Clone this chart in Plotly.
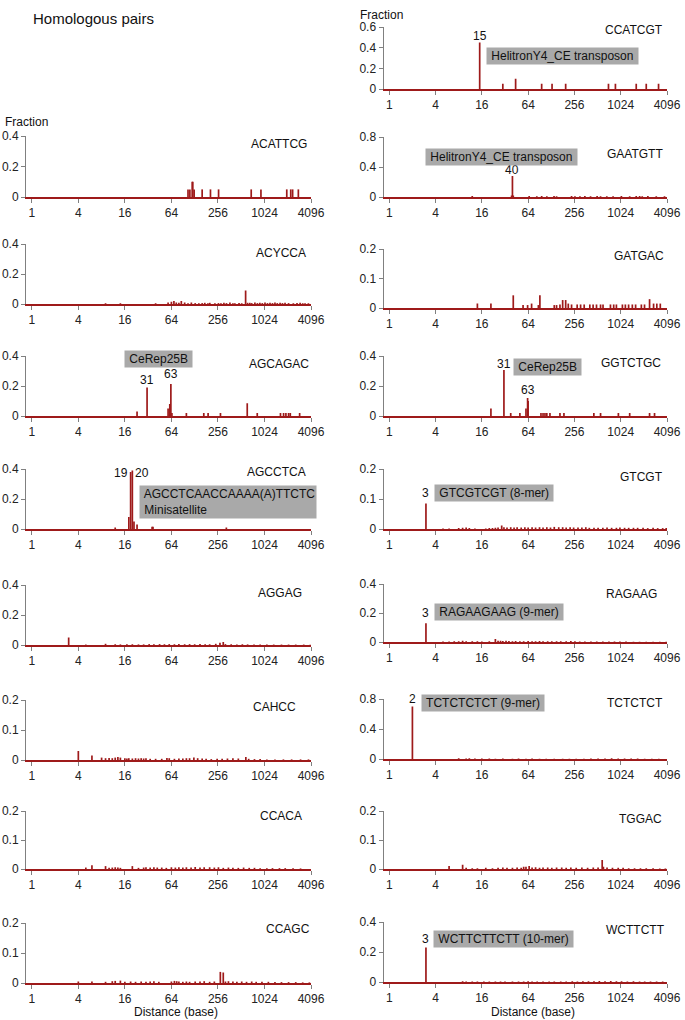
import math
import plotly.graph_objects as go

W, H = 685, 1020
BAR = "#9e1a1a"
AXIS = "#808080"
BOX = "#a9a9a9"
FONT = "Arial, Liberation Sans, sans-serif"

x_ticks = [1, 4, 16, 64, 256, 1024, 4096]
x_tick_text = ["1", "4", "16", "64", "256", "1024", "4096"]

# ---------------- data (distance in bases, fraction) ----------------
acattcg_dist = [105, 111, 119, 121, 126, 160, 205, 261, 690, 922, 1990, 2240, 2370, 2810]
acattcg_frac = [0.05, 0.05, 0.1, 0.1, 0.05, 0.05, 0.05, 0.05, 0.05, 0.05, 0.05, 0.05, 0.05, 0.05]

acycca_dist = [9, 14, 40, 58, 64, 69, 74, 80, 86, 95, 105, 116, 130, 145, 160, 173, 190, 201, 234, 260,
               280, 306, 330, 366, 400, 424, 480, 520, 584, 620, 662, 700, 770, 830, 893, 960, 1040, 1120,
               1207, 1300, 1400, 1500, 1630, 1750, 1890, 2100, 2420, 2700, 2960, 3200, 3430, 3790]
acycca_frac = [0.005, 0.005, 0.005, 0.01, 0.015, 0.02, 0.01, 0.008, 0.02, 0.01, 0.005, 0.01, 0.006, 0.005,
               0.006, 0.008, 0.005, 0.008, 0.005, 0.006, 0.005, 0.008, 0.006, 0.01, 0.005, 0.005, 0.006,
               0.005, 0.09, 0.008, 0.008, 0.006, 0.01, 0.006, 0.008, 0.006, 0.01, 0.006, 0.008, 0.006,
               0.01, 0.006, 0.008, 0.006, 0.008, 0.006, 0.005, 0.006, 0.008, 0.005, 0.005, 0.005]

agcagac_dist = [23, 31, 58, 61, 63, 65, 100, 168, 191, 276, 613, 826, 1650, 1810, 1940, 2100, 2210, 2920]
agcagac_frac = [0.03, 0.19, 0.05, 0.08, 0.213, 0.02, 0.02, 0.02, 0.02, 0.02, 0.085, 0.02, 0.02, 0.02,
                0.02, 0.02, 0.02, 0.02]

agcctca_dist = [12, 18, 19, 20, 21, 23, 36, 37, 329]
agcctca_frac = [0.01, 0.08, 0.38, 0.39, 0.05, 0.03, 0.015, 0.015, 0.01]

aggag_dist = [3, 5, 9, 12, 14, 17, 20, 24, 28, 33, 38, 45, 52, 60, 70, 80, 95, 110, 128, 150, 175, 200,
              240, 272, 300, 320, 380, 450, 530, 620, 750, 900, 1100, 1350, 1700, 2100, 2600, 3300, 4000]
aggag_frac = [0.05, 0.003, 0.008, 0.005, 0.004, 0.005, 0.005, 0.004, 0.004, 0.006, 0.005, 0.006, 0.005,
              0.006, 0.005, 0.006, 0.005, 0.006, 0.005, 0.006, 0.005, 0.005, 0.008, 0.015, 0.02, 0.006,
              0.005, 0.004, 0.005, 0.004, 0.004, 0.003, 0.003, 0.003, 0.003, 0.003, 0.003, 0.003, 0.002]

cahcc_dist = [4, 6, 8, 9, 10, 11, 12, 13, 14, 16, 17, 18, 20, 22, 24, 26, 28, 30, 34, 40, 48, 56, 60, 70,
              80, 90, 100, 110, 125, 140, 160, 180, 210, 250, 290, 340, 400, 470, 588, 640, 760, 900,
              1100, 1400, 1800, 2300, 3000, 3800]
cahcc_frac = [0.03, 0.015, 0.008, 0.006, 0.007, 0.006, 0.008, 0.01, 0.008, 0.006, 0.005, 0.006, 0.005,
              0.006, 0.005, 0.006, 0.005, 0.006, 0.004, 0.004, 0.004, 0.007, 0.006, 0.004, 0.005, 0.005,
              0.006, 0.006, 0.008, 0.006, 0.005, 0.004, 0.003, 0.004, 0.004, 0.005, 0.006, 0.005, 0.01,
              0.004, 0.003, 0.003, 0.002, 0.002, 0.002, 0.002, 0.002, 0.002]

ccaca_dist = [5, 6, 9, 10, 11, 12, 13, 14, 20, 24, 28, 30, 34, 38, 42, 48, 55, 64, 72, 80, 90, 100, 115,
              130, 150, 170, 200, 230, 260, 300, 350, 400, 470, 550, 650, 760, 900, 1100, 1300, 1600,
              1900, 2400, 3000]
ccaca_frac = [0.005, 0.013, 0.01, 0.004, 0.005, 0.006, 0.005, 0.004, 0.01, 0.004, 0.005, 0.006, 0.005,
              0.006, 0.005, 0.005, 0.004, 0.006, 0.005, 0.006, 0.005, 0.006, 0.005, 0.007, 0.005, 0.006,
              0.006, 0.005, 0.006, 0.004, 0.005, 0.004, 0.004, 0.005, 0.004, 0.004, 0.003, 0.003, 0.003,
              0.003, 0.003, 0.003, 0.002]

ccagc_dist = [4, 6, 9, 11, 12, 14, 16, 19, 22, 26, 30, 34, 38, 44, 64, 70, 75, 80, 90, 100, 110, 130,
              150, 170, 200, 230, 275, 300, 320, 350, 400, 450, 520, 600, 700, 800, 950, 1150, 1400,
              1700, 2100, 2600, 3200, 3900]
ccagc_frac = [0.005, 0.005, 0.004, 0.006, 0.007, 0.008, 0.004, 0.005, 0.004, 0.005, 0.004, 0.005, 0.006,
              0.004, 0.005, 0.007, 0.006, 0.005, 0.004, 0.005, 0.004, 0.005, 0.005, 0.006, 0.004, 0.005,
              0.037, 0.035, 0.005, 0.006, 0.005, 0.004, 0.005, 0.004, 0.005, 0.004, 0.004, 0.004, 0.003,
              0.003, 0.003, 0.003, 0.002, 0.002]

ccatcgt_dist = [15, 30, 44, 96, 131, 197, 710, 874, 1630, 2200, 3180]
ccatcgt_frac = [0.45, 0.05, 0.1, 0.05, 0.05, 0.05, 0.05, 0.05, 0.05, 0.05, 0.05]

gaatgtt_dist = [12, 39, 40, 41, 66, 83, 96, 112, 139, 150, 235, 260, 302, 350, 415, 505, 560, 675, 815,
                1045, 1340, 1630, 1805, 1950, 2310, 2970, 3800]
gaatgtt_frac = [0.015, 0.02, 0.28, 0.02, 0.015, 0.01, 0.015, 0.01, 0.015, 0.01, 0.015, 0.01, 0.01, 0.015,
                0.01, 0.015, 0.01, 0.01, 0.01, 0.015, 0.01, 0.015, 0.015, 0.01, 0.015, 0.01, 0.01]

gatgac_dist = [14, 21, 41, 55, 63, 71, 87, 91, 140, 150, 166, 180, 197, 213, 235, 278, 308, 343, 406, 448,
               496, 560, 603, 753, 830, 900, 1077, 1177, 1297, 1450, 1600, 1900, 2090, 2430, 2740, 3020, 3350]
gatgac_frac = [0.015, 0.015, 0.043, 0.01, 0.01, 0.015, 0.01, 0.043, 0.01, 0.01, 0.012, 0.027, 0.027,
               0.015, 0.012, 0.012, 0.012, 0.012, 0.012, 0.012, 0.012, 0.012, 0.012, 0.012, 0.012, 0.012,
               0.012, 0.012, 0.012, 0.012, 0.012, 0.012, 0.012, 0.03, 0.015, 0.015, 0.015]

ggtctgc_dist = [21, 31, 38, 50, 60, 63, 64, 94, 100, 106, 112, 123, 166, 187, 458, 560, 955, 1340, 2430, 2820]
ggtctgc_frac = [0.05, 0.307, 0.02, 0.02, 0.05, 0.12, 0.1, 0.02, 0.02, 0.02, 0.02, 0.02, 0.02, 0.02, 0.02,
                0.02, 0.02, 0.02, 0.02, 0.02]

gtcgt_dist = [3, 5, 6, 8, 9, 10, 11, 13, 18, 20, 22, 24, 26, 29, 31, 34, 38, 42, 46, 52, 58, 64, 72, 80,
              90, 100, 112, 125, 140, 160, 180, 200, 225, 250, 285, 320, 360, 400, 460, 520, 600, 680,
              780, 900, 1000, 1150, 1300, 1500, 1700, 2000, 2300, 2700, 3100, 3600, 4000]
gtcgt_frac = [0.085, 0.002, 0.002, 0.003, 0.004, 0.005, 0.003, 0.002, 0.002, 0.003, 0.003, 0.004, 0.005,
              0.012, 0.006, 0.005, 0.006, 0.005, 0.006, 0.005, 0.006, 0.005, 0.006, 0.005, 0.006, 0.005,
              0.006, 0.005, 0.007, 0.006, 0.006, 0.005, 0.006, 0.005, 0.005, 0.005, 0.006, 0.004, 0.004,
              0.004, 0.004, 0.005, 0.004, 0.004, 0.005, 0.004, 0.004, 0.004, 0.004, 0.004, 0.003, 0.004,
              0.003, 0.003, 0.003]

ragaag_dist = [3, 5, 6, 7, 8, 9, 10, 12, 14, 16, 20, 24, 26, 28, 30, 33, 36, 40, 44, 50, 56, 64, 72, 80,
               90, 100, 115, 130, 150, 170, 200, 230, 260, 300, 350, 420, 500, 600, 720, 850, 1000, 1200,
               1500, 1800, 2200, 2700, 3300, 4000]
ragaag_frac = [0.13, 0.004, 0.004, 0.005, 0.006, 0.008, 0.005, 0.005, 0.005, 0.004, 0.005, 0.02, 0.008,
               0.008, 0.007, 0.008, 0.007, 0.006, 0.007, 0.006, 0.006, 0.007, 0.006, 0.006, 0.007, 0.006,
               0.005, 0.006, 0.005, 0.006, 0.005, 0.007, 0.005, 0.004, 0.004, 0.004, 0.003, 0.003, 0.003,
               0.003, 0.003, 0.003, 0.002, 0.002, 0.002, 0.002, 0.002, 0.002]

tctctct_dist = [2, 8, 10, 11, 13, 16, 20, 24, 30, 40, 48, 60, 72, 90, 110, 140, 180, 220, 270, 340, 420,
                520, 640, 780, 950, 1150, 1400, 1700, 2100, 2600, 3200]
tctctct_frac = [0.70, 0.01, 0.008, 0.01, 0.006, 0.008, 0.006, 0.005, 0.006, 0.005, 0.006, 0.005, 0.008,
                0.005, 0.004, 0.005, 0.004, 0.004, 0.004, 0.004, 0.008, 0.006, 0.008, 0.01, 0.008, 0.006,
                0.008, 0.006, 0.005, 0.004, 0.004]

tggac_dist = [6, 9, 10, 12, 14, 18, 22, 26, 30, 34, 40, 46, 52, 56, 60, 66, 72, 80, 90, 100, 115, 130,
              150, 175, 200, 230, 270, 320, 380, 450, 520, 588, 610, 680, 800, 950, 1100, 1300, 1550,
              1850, 2200, 2700, 3300, 3900]
tggac_frac = [0.01, 0.015, 0.004, 0.003, 0.003, 0.004, 0.003, 0.004, 0.005, 0.004, 0.004, 0.005, 0.004,
              0.008, 0.008, 0.01, 0.005, 0.006, 0.004, 0.005, 0.005, 0.004, 0.005, 0.005, 0.004, 0.005,
              0.004, 0.005, 0.004, 0.005, 0.005, 0.031, 0.008, 0.005, 0.004, 0.004, 0.004, 0.003, 0.003,
              0.003, 0.003, 0.003, 0.002, 0.002]

wcttctt_dist = [3, 9, 10, 12, 14, 17, 20, 24, 28, 32, 40, 48, 56, 64, 72, 84, 100, 120, 140, 170, 200,
                240, 280, 330, 390, 460, 540, 640, 760, 900, 1050, 1250, 1500, 1800, 2100, 2500, 3000, 3600]
wcttctt_frac = [0.23, 0.005, 0.004, 0.003, 0.004, 0.003, 0.004, 0.004, 0.003, 0.004, 0.004, 0.003, 0.004,
                0.005, 0.004, 0.003, 0.004, 0.003, 0.004, 0.004, 0.004, 0.005, 0.004, 0.005, 0.005, 0.005,
                0.006, 0.005, 0.006, 0.005, 0.005, 0.004, 0.005, 0.004, 0.004, 0.004, 0.004, 0.003]

# ---------------- panel layout (pixel geometry) ----------------
LEFT = (26, 311)
RIGHT = (383.5, 667)
XLO = -0.075

panels = [
    # name, column, top px, zero px, ymax, yticks, dist, frac, label right px, label y px
    ("ACATTCG", LEFT, 136, 197, 0.4, [0, 0.2, 0.4], acattcg_dist, acattcg_frac, 309, 144),
    ("ACYCCA", LEFT, 244, 304, 0.4, [0, 0.2, 0.4], acycca_dist, acycca_frac, 308, 253),
    ("AGCAGAC", LEFT, 356, 416, 0.4, [0, 0.2, 0.4], agcagac_dist, agcagac_frac, 311, 364),
    ("AGCCTCA", LEFT, 469, 529, 0.4, [0, 0.2, 0.4], agcctca_dist, agcctca_frac, 308, 472),
    ("AGGAG", LEFT, 585, 645, 0.4, [0, 0.2, 0.4], aggag_dist, aggag_frac, 304, 593),
    ("CAHCC", LEFT, 700, 760, 0.2, [0, 0.1, 0.2], cahcc_dist, cahcc_frac, 298, 707),
    ("CCACA", LEFT, 811, 869, 0.2, [0, 0.1, 0.2], ccaca_dist, ccaca_frac, 304, 816),
    ("CCAGC", LEFT, 923, 983, 0.2, [0, 0.1, 0.2], ccagc_dist, ccagc_frac, 312, 929),
    ("CCATCGT", RIGHT, 27, 89, 0.6, [0, 0.2, 0.4, 0.6], ccatcgt_dist, ccatcgt_frac, 665, 30),
    ("GAATGTT", RIGHT, 137, 197, 0.8, [0, 0.4, 0.8], gaatgtt_dist, gaatgtt_frac, 665, 154),
    ("GATGAC", RIGHT, 249, 308, 0.2, [0, 0.1, 0.2], gatgac_dist, gatgac_frac, 666, 256),
    ("GGTCTGC", RIGHT, 356, 416, 0.4, [0, 0.2, 0.4], ggtctgc_dist, ggtctgc_frac, 663, 363),
    ("GTCGT", RIGHT, 469, 529, 0.2, [0, 0.1, 0.2], gtcgt_dist, gtcgt_frac, 665, 477),
    ("RAGAAG", RIGHT, 584, 642, 0.4, [0, 0.2, 0.4], ragaag_dist, ragaag_frac, 659, 594),
    ("TCTCTCT", RIGHT, 699, 759, 0.8, [0, 0.4, 0.8], tctctct_dist, tctctct_frac, 665, 703),
    ("TGGAC", RIGHT, 811, 869, 0.2, [0, 0.1, 0.2], tggac_dist, tggac_frac, 664, 819),
    ("WCTTCTT", RIGHT, 922, 982, 0.4, [0, 0.2, 0.4], wcttctt_dist, wcttctt_frac, 667, 930),
]


def px(x):
    return x / W


def py(y):
    return 1 - y / H


fig = go.Figure()
annotations = []
layout_axes = {}
axis_ids = {}

for i, (name, col, top, zero, ymax, yt, dist, frac, lx, ly) in enumerate(panels):
    n = i + 1
    xs, ys = [], []
    for d, f in zip(dist, frac):
        xs += [d, d, None]
        ys += [0, f, None]
    xa = "x" if n == 1 else f"x{n}"
    ya = "y" if n == 1 else f"y{n}"
    axis_ids[name] = (xa, ya)
    fig.add_trace(go.Scatter(x=xs, y=ys, mode="lines", xaxis=xa, yaxis=ya,
                             line=dict(color=BAR, width=1.7), hoverinfo="skip",
                             showlegend=False, cliponaxis=False))
    xk = "xaxis" if n == 1 else f"xaxis{n}"
    yk = "yaxis" if n == 1 else f"yaxis{n}"
    layout_axes[xk] = dict(
        domain=[px(col[0]), px(col[1])], anchor=ya, type="log", automargin=False,
        range=[XLO, math.log10(4096)], tickvals=x_ticks, ticktext=x_tick_text,
        showline=True, linecolor=BAR, linewidth=1.6, ticks="outside", ticklen=4,
        tickcolor=AXIS, tickwidth=1, showgrid=False, zeroline=False,
        tickfont=dict(family=FONT, size=12, color="#222"),
    )
    layout_axes[yk] = dict(
        domain=[py(zero), py(top)], anchor=xa, range=[0, ymax], automargin=False,
        tickvals=yt, ticktext=[("%g" % v) for v in yt],
        showline=True, linecolor=AXIS, linewidth=1, ticks="outside", ticklen=4,
        tickcolor=AXIS, showgrid=False, zeroline=False,
        tickfont=dict(family=FONT, size=12, color="#222"),
    )
    annotations.append(dict(text=name, xref="paper", yref="paper", x=px(lx), y=py(ly),
                            xanchor="right", yanchor="middle", showarrow=False,
                            font=dict(family=FONT, size=12, color="#111")))


def peak_label(panel, dist_val, text, ypix, anchor="center", xshift=0):
    xa, _ = axis_ids[panel]
    annotations.append(dict(text=text, xref=xa, yref="paper", x=math.log10(dist_val), y=py(ypix),
                            xanchor=anchor, yanchor="middle", showarrow=False, xshift=xshift,
                            font=dict(family=FONT, size=12, color="#111")))


def box(text, x0, yc):
    annotations.append(dict(text=text, xref="paper", yref="paper", x=px(x0), y=py(yc),
                            xanchor="left", yanchor="middle", showarrow=False, align="left",
                            bgcolor=BOX, borderpad=1,
                            font=dict(family=FONT, size=12, color="#111")))


peak_label("CCATCGT", 15, "15", 36)
box(" HelitronY4_CE transposon ", 485.7, 55.8)
peak_label("GAATGTT", 40, "40", 170)
box(" HelitronY4_CE transposon ", 425, 156.7)
peak_label("AGCAGAC", 31, "31", 380)
peak_label("AGCAGAC", 63, "63", 374)
box(" CeRep25B ", 124.3, 358.8)
peak_label("GGTCTGC", 31, "31", 364)
peak_label("GGTCTGC", 63, "63", 390)
box(" CeRep25B ", 512.7, 367)
peak_label("AGCCTCA", 19, "19", 473.3, "right", -1)
peak_label("AGCCTCA", 20, "20", 473.3, "left", 1)
box(" AGCCTCAACCAAAA(A)TTCTC<br> Minisatellite", 139, 502)
peak_label("GTCGT", 3, "3", 493.3)
box(" GTCGTCGT (8-mer) ", 434, 493.3)
peak_label("RAGAAG", 3, "3", 612.7)
box(" RAGAAGAAG (9-mer) ", 434, 612)
peak_label("TCTCTCT", 2, "2", 699)
box(" TCTCTCTCT (9-mer) ", 421, 703.3)
peak_label("WCTTCTT", 3, "3", 939)
box(" WCTTCTTCTT (10-mer) ", 433, 939.3)

# titles
annotations.append(dict(text="Homologous pairs", xref="paper", yref="paper", x=px(30.5), y=py(18.3),
                        xanchor="left", yanchor="middle", showarrow=False,
                        font=dict(family=FONT, size=15, color="#111")))
annotations.append(dict(text="Fraction", xref="paper", yref="paper", x=px(3), y=py(121.7),
                        xanchor="left", yanchor="middle", showarrow=False,
                        font=dict(family=FONT, size=12, color="#111")))
annotations.append(dict(text="Fraction", xref="paper", yref="paper", x=px(358), y=py(15),
                        xanchor="left", yanchor="middle", showarrow=False,
                        font=dict(family=FONT, size=12, color="#111")))
annotations.append(dict(text="Distance (base)", xref="paper", yref="paper", x=px(176), y=py(1012),
                        xanchor="center", yanchor="middle", showarrow=False,
                        font=dict(family=FONT, size=12, color="#111")))
annotations.append(dict(text="Distance (base)", xref="paper", yref="paper", x=px(533), y=py(1012),
                        xanchor="center", yanchor="middle", showarrow=False,
                        font=dict(family=FONT, size=12, color="#111")))

fig.update_layout(width=W, height=H, margin=dict(l=0, r=0, t=0, b=0, autoexpand=False),
                  paper_bgcolor="white", plot_bgcolor="white",
                  font=dict(family=FONT, size=12), annotations=annotations, **layout_axes)

fig.write_html("out.html", config={"displayModeBar": False},
               post_script="document.body.style.margin='0px';document.body.style.padding='0px';")
